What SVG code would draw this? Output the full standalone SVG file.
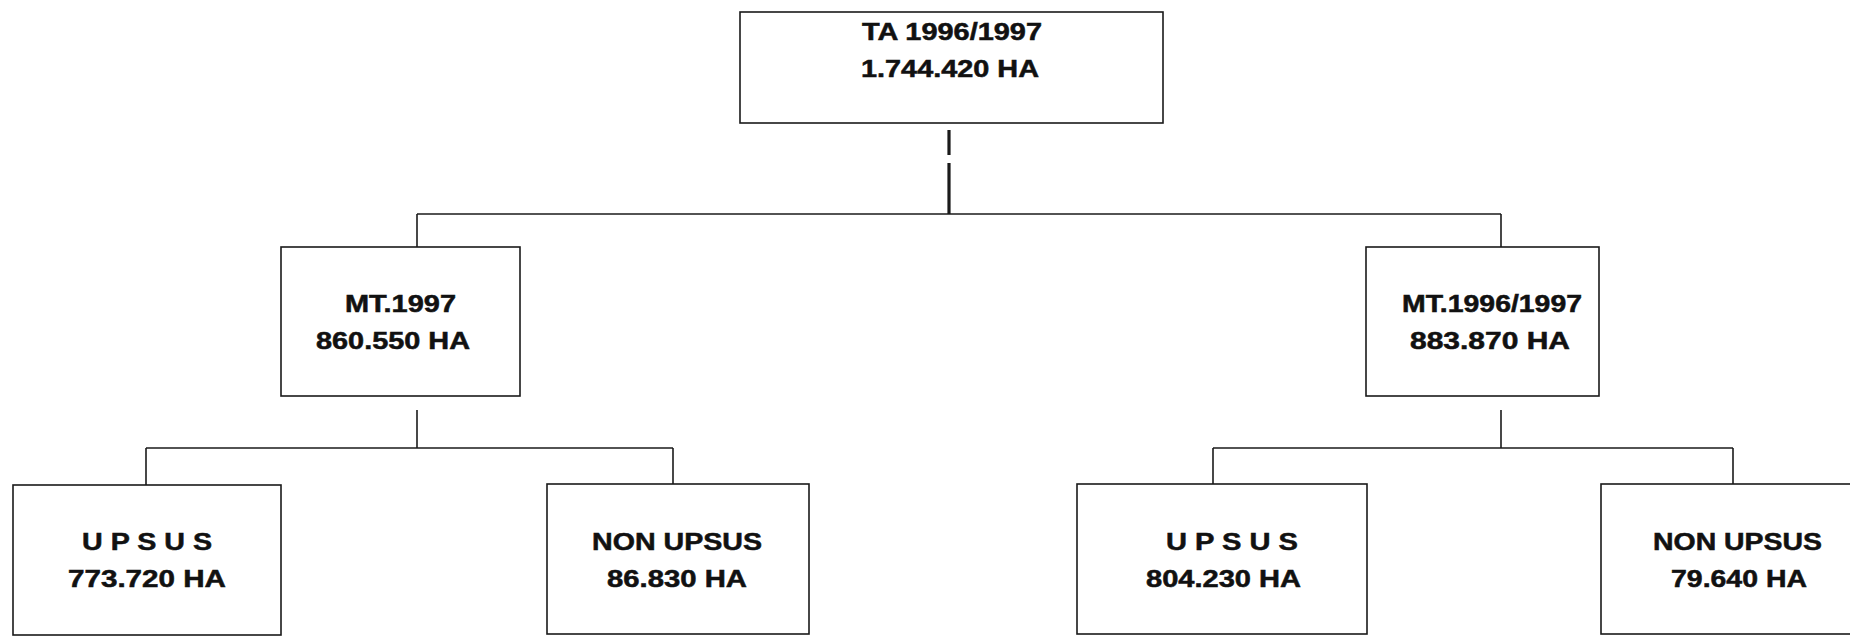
<svg xmlns="http://www.w3.org/2000/svg" width="1850" height="642" viewBox="0 0 1850 642">
<style>
.box{fill:#fff;stroke:#1a1a1a;stroke-width:1.6}
.ln{stroke:#1a1a1a;stroke-width:1.6;fill:none}
.thick{stroke:#1a1a1a;stroke-width:3.2;fill:none}
text{font-family:"Liberation Sans",Arial,sans-serif;font-weight:bold;font-size:23px;fill:#111;stroke:#111;stroke-width:0.5}
</style>
<rect x="0" y="0" width="1850" height="642" fill="#fff"/>
<g id="connectors">
<line class="thick" x1="949" y1="130" x2="949" y2="155"/>
<line class="thick" x1="949" y1="163" x2="949" y2="214"/>
<line class="ln" x1="417" y1="214" x2="1501" y2="214"/>
<line class="ln" x1="417" y1="214" x2="417" y2="247"/>
<line class="ln" x1="1501" y1="214" x2="1501" y2="247"/>
<line class="ln" x1="417" y1="410" x2="417" y2="448"/>
<line class="ln" x1="146" y1="448" x2="673" y2="448"/>
<line class="ln" x1="146" y1="448" x2="146" y2="485"/>
<line class="ln" x1="673" y1="448" x2="673" y2="484"/>
<line class="ln" x1="1501" y1="410" x2="1501" y2="448"/>
<line class="ln" x1="1213" y1="448" x2="1733" y2="448"/>
<line class="ln" x1="1213" y1="448" x2="1213" y2="484"/>
<line class="ln" x1="1733" y1="448" x2="1733" y2="484"/>
</g>
<g id="ta">
<rect class="box" x="740" y="12" width="423" height="111"/>
<text x="862" y="40" textLength="180" lengthAdjust="spacingAndGlyphs">TA 1996/1997</text>
<text x="861" y="77" textLength="178" lengthAdjust="spacingAndGlyphs">1.744.420 HA</text>
</g>
<g id="mt1997">
<rect class="box" x="281" y="247" width="239" height="149"/>
<text x="345" y="312" textLength="111" lengthAdjust="spacingAndGlyphs">MT.1997</text>
<text x="316" y="349" textLength="154" lengthAdjust="spacingAndGlyphs">860.550 HA</text>
</g>
<g id="mt19961997">
<rect class="box" x="1366" y="247" width="233" height="149"/>
<text x="1402" y="312" textLength="180" lengthAdjust="spacingAndGlyphs">MT.1996/1997</text>
<text x="1410" y="349" textLength="160" lengthAdjust="spacingAndGlyphs">883.870 HA</text>
</g>
<g id="upsus-left">
<rect class="box" x="13" y="485" width="268" height="150"/>
<text x="82" y="550" textLength="130" lengthAdjust="spacingAndGlyphs">U P S U S</text>
<text x="68" y="587" textLength="158" lengthAdjust="spacingAndGlyphs">773.720 HA</text>
</g>
<g id="nonupsus-left">
<rect class="box" x="547" y="484" width="262" height="150"/>
<text x="592" y="550" textLength="170" lengthAdjust="spacingAndGlyphs">NON UPSUS</text>
<text x="607" y="587" textLength="140" lengthAdjust="spacingAndGlyphs">86.830 HA</text>
</g>
<g id="upsus-right">
<rect class="box" x="1077" y="484" width="290" height="150"/>
<text x="1166" y="550" textLength="132" lengthAdjust="spacingAndGlyphs">U P S U S</text>
<text x="1146" y="587" textLength="155" lengthAdjust="spacingAndGlyphs">804.230 HA</text>
</g>
<g id="nonupsus-right">
<rect class="box" x="1601" y="484" width="260" height="150"/>
<text x="1653" y="550" textLength="169" lengthAdjust="spacingAndGlyphs">NON UPSUS</text>
<text x="1671" y="587" textLength="136" lengthAdjust="spacingAndGlyphs">79.640 HA</text>
</g>
</svg>
